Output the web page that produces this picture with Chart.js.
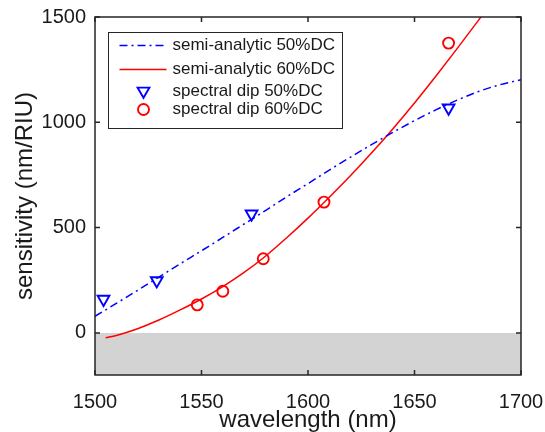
<!DOCTYPE html>
<html>
<head>
<meta charset="utf-8">
<script src="https://cdn.jsdelivr.net/npm/chart.js"></script>
<style>
  html, body { margin: 0; padding: 0; background: #fff; }
  canvas { display: block; }
</style>
</head>
<body>
<canvas id="sensChart" width="545" height="432"></canvas>
<script>
// semi-analytic curves (wavelength in nm, sensitivity in nm/RIU)
const fitWavelength50 = [1500, 1510, 1520, 1530, 1540, 1550, 1560, 1570, 1580, 1590, 1600,
                         1610, 1620, 1630, 1640, 1650, 1660, 1670, 1680, 1690, 1700];
const fitSensitivity50 = [79, 140, 202, 265, 328, 390, 453, 517, 581, 646, 709,
                          773, 835, 895, 953, 1008, 1059, 1105, 1146, 1178, 1202];

const fitWavelength60 = [1505, 1510, 1520, 1530, 1540, 1550, 1560, 1570, 1580, 1590, 1600,
                         1610, 1620, 1630, 1640, 1650, 1660, 1670, 1680, 1690, 1700];
const fitSensitivity60 = [-23, -12, 20, 61, 109, 161, 220, 287, 364, 452, 545,
                          644, 747, 856, 971, 1092, 1219, 1350, 1484, 1622, 1762];

// spectral dip measurements
const dipWavelength50 = [1504, 1529, 1573.5, 1666];
const dipSensitivity50 = [160, 248, 565, 1068];
const dipWavelength60 = [1548, 1560, 1579, 1607.5, 1666];
const dipSensitivity60 = [133, 198, 352, 621, 1376];

// axes
const xTicks = [1500, 1550, 1600, 1650, 1700];
const yTicks = [0, 500, 1000, 1500];

const FONT = "'Liberation Sans', Arial, sans-serif";
const INK = '#1a1a1a';

function toPoints(xs, ys) {
    return xs.map((x, i) => ({ x: x, y: ys[i] }));
}

// frame around the plot with inward ticks on all four sides
const frameAxes = {
    id: 'frameAxes',
    afterDraw(chart) {
        const { ctx, chartArea: a, scales } = chart;
        const len = 5;
        ctx.save();
        ctx.strokeStyle = '#262626';
        ctx.lineWidth = 1.5;
        ctx.beginPath();
        scales.x.ticks.forEach(t => {
            const px = scales.x.getPixelForValue(t.value);
            ctx.moveTo(px, a.bottom); ctx.lineTo(px, a.bottom - len);
            ctx.moveTo(px, a.top); ctx.lineTo(px, a.top + len);
        });
        scales.y.ticks.forEach(t => {
            const py = scales.y.getPixelForValue(t.value);
            ctx.moveTo(a.left, py); ctx.lineTo(a.left + len, py);
            ctx.moveTo(a.right, py); ctx.lineTo(a.right - len, py);
        });
        ctx.stroke();
        ctx.strokeRect(a.left, a.top, a.right - a.left, a.bottom - a.top);
        ctx.restore();
    }
};

// boxed legend in the upper left corner of the plot
const boxLegend = {
    id: 'boxLegend',
    afterDraw(chart) {
        const { ctx, chartArea: a } = chart;
        const left = Math.round(a.left + 13) + 0.5;
        const top = Math.round(a.top + 15) + 0.5;
        const w = 234, h = 96;
        const rowY = [13, 37, 58.5, 77];
        ctx.save();
        ctx.fillStyle = '#fff';
        ctx.fillRect(left, top, w, h);
        ctx.strokeStyle = '#262626';
        ctx.lineWidth = 1;
        ctx.strokeRect(left, top, w, h);

        const items = chart.data.datasets.filter(d => d.legendRow !== undefined);
        items.forEach(d => {
            const y = top + rowY[d.legendRow];
            if (d.showLine !== false) {
                ctx.save();
                ctx.strokeStyle = d.borderColor;
                ctx.lineWidth = d.borderWidth;
                ctx.setLineDash(d.borderDash || []);
                ctx.beginPath();
                ctx.moveTo(left + 11, y);
                ctx.lineTo(left + 58, y);
                ctx.stroke();
                ctx.restore();
            } else {
                const cx = left + 35;
                ctx.save();
                ctx.strokeStyle = d.pointBorderColor;
                ctx.lineWidth = d.pointBorderWidth;
                ctx.beginPath();
                if (d.pointStyle === 'triangle') {
                    const r = d.pointRadius;
                    ctx.moveTo(cx - r * 0.866, y - r * 0.5);
                    ctx.lineTo(cx + r * 0.866, y - r * 0.5);
                    ctx.lineTo(cx, y + r);
                    ctx.closePath();
                } else {
                    ctx.arc(cx, y, d.pointRadius, 0, Math.PI * 2);
                }
                ctx.stroke();
                ctx.restore();
            }
            ctx.fillStyle = INK;
            ctx.font = '17px ' + FONT;
            ctx.textBaseline = 'middle';
            ctx.textAlign = 'left';
            ctx.fillText(d.label, left + 64, y);
        });
        ctx.restore();
    }
};

const ctx = document.getElementById('sensChart').getContext('2d');

new Chart(ctx, {
    type: 'line',
    data: {
        datasets: [
            {
                label: 'semi-analytic 50%DC',
                data: toPoints(fitWavelength50, fitSensitivity50),
                borderColor: '#0000ff',
                borderWidth: 1.5,
                borderDash: [8, 4, 2, 4],
                pointRadius: 0,
                cubicInterpolationMode: 'monotone',
                fill: false,
                legendRow: 0,
                order: 2
            },
            {
                label: 'semi-analytic 60%DC',
                data: toPoints(fitWavelength60, fitSensitivity60),
                borderColor: '#ff0000',
                borderWidth: 1.5,
                pointRadius: 0,
                cubicInterpolationMode: 'monotone',
                fill: false,
                legendRow: 1,
                order: 2
            },
            {
                label: 'spectral dip 50%DC',
                data: toPoints(dipWavelength50, dipSensitivity50),
                showLine: false,
                pointStyle: 'triangle',
                rotation: 180,
                pointRadius: 6.8,
                pointBorderWidth: 1.9,
                pointBorderColor: '#0000ff',
                pointBackgroundColor: 'rgba(0,0,0,0)',
                borderColor: '#0000ff',
                legendRow: 2,
                order: 1
            },
            {
                label: 'spectral dip 60%DC',
                data: toPoints(dipWavelength60, dipSensitivity60),
                showLine: false,
                pointStyle: 'circle',
                pointRadius: 5.5,
                pointBorderWidth: 1.9,
                pointBorderColor: '#ff0000',
                pointBackgroundColor: 'rgba(0,0,0,0)',
                borderColor: '#ff0000',
                legendRow: 3,
                order: 1
            },
            {
                // grey band below zero sensitivity
                label: 'negative',
                data: toPoints([1500, 1700], [0, 0]),
                borderWidth: 0,
                pointRadius: 0,
                backgroundColor: '#d3d3d3',
                fill: 'start',
                order: 10
            }
        ]
    },
    options: {
        responsive: false,
        animation: false,
        layout: { padding: { top: 17, right: 24, left: 0, bottom: 0 } },
        plugins: {
            legend: { display: false },
            tooltip: { enabled: false }
        },
        scales: {
            x: {
                type: 'linear',
                min: 1500,
                max: 1700,
                grid: { display: false, drawTicks: false },
                border: { display: false },
                afterBuildTicks: s => { s.ticks = xTicks.map(v => ({ value: v })); },
                afterFit: s => { s.height = 57; s.paddingLeft = 0; s.paddingRight = 0; },
                ticks: {
                    color: INK,
                    padding: 15,
                    maxRotation: 0,
                    callback: v => String(v),
                    font: { family: FONT, size: 20 }
                },
                title: {
                    display: true,
                    text: 'wavelength (nm)',
                    color: INK,
                    font: { family: FONT, size: 24, lineHeight: 1.0 },
                    padding: { top: 0, bottom: 0 }
                }
            },
            y: {
                type: 'linear',
                min: -200,
                max: 1500,
                grid: { display: false, drawTicks: false },
                border: { display: false },
                afterBuildTicks: s => { s.ticks = yTicks.map(v => ({ value: v })); },
                afterFit: s => { s.width = 95; s.paddingTop = 0; s.paddingBottom = 0; },
                ticks: {
                    color: INK,
                    padding: 9,
                    callback: v => String(v),
                    font: { family: FONT, size: 20 }
                },
                title: {
                    display: true,
                    text: 'sensitivity (nm/RIU)',
                    color: INK,
                    font: { family: FONT, size: 24 },
                    padding: { top: 11, bottom: 0 }
                }
            }
        }
    },
    plugins: [frameAxes, boxLegend]
});
</script>
</body>
</html>
